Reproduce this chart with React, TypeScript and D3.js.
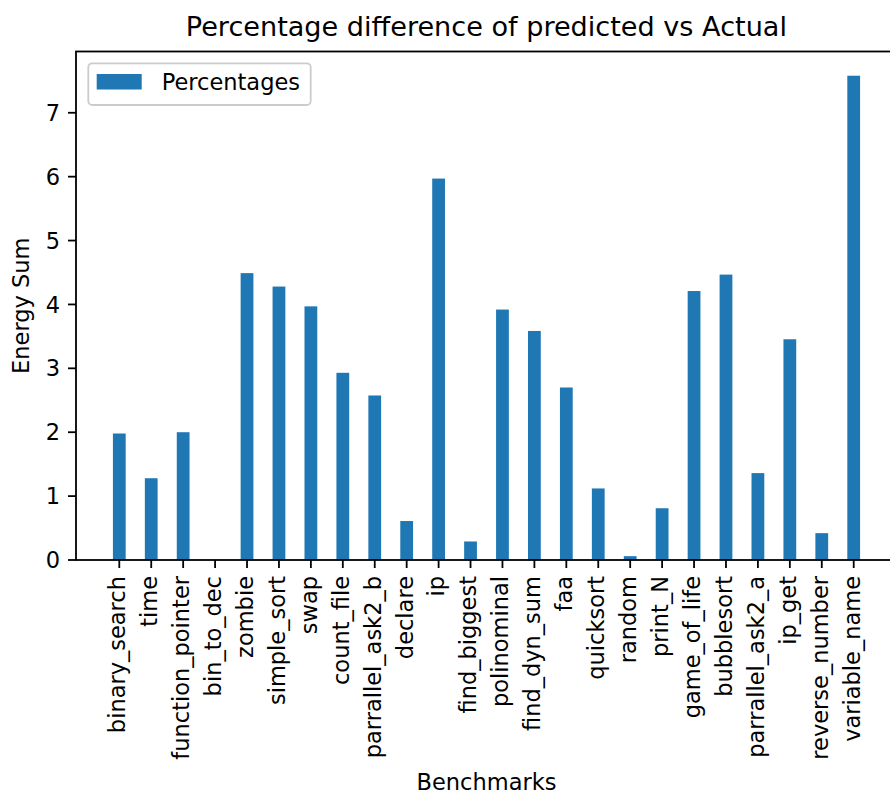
import React from "react";
import * as d3 from "d3";

const categories = [
  "binary_search", "time", "function_pointer", "bin_to_dec", "zombie", "simple_sort",
  "swap", "count_file", "parrallel_ask2_b", "declare", "ip", "find_biggest",
  "polinominal", "find_dyn_sum", "faa", "quicksort", "random", "print_N",
  "game_of_life", "bubblesort", "parrallel_ask2_a", "ip_get", "reverse_number", "variable_name",
];
const percentages = [
  1.98, 1.28, 2.0, 0, 4.49, 4.28,
  3.97, 2.93, 2.575, 0.61, 5.97, 0.29,
  3.92, 3.585, 2.7, 1.12, 0.06, 0.81,
  4.21, 4.467, 1.36, 3.455, 0.42, 7.58,
];
const yTicks = [0, 1, 2, 3, 4, 5, 6, 7];
const title = "Percentage difference of predicted vs Actual";
const xLabel = "Benchmarks";
const yLabel = "Energy Sum";
const legendLabel = "Percentages";

const W = 890;
const H = 796;
const left = 76;
const right = 897;
const top = 51.5;
const bottom = 560;
const pad = 1.356;
const FONT = "'DejaVu Sans', sans-serif";
const FS = 22.5;
const BLUE = "#1f77b4";

export default function App() {
  const n = categories.length;
  const x = d3.scaleLinear().domain([-pad, n - 1 + pad]).range([left, right]);
  const y = d3.scaleLinear().domain([0, 1.05 * (d3.max(percentages) as number)]).range([bottom, top]);
  const barW = x(0.4) - x(0);
  const cx = (left + right) / 2;
  const cy = (top + bottom) / 2;

  return (
    <svg width={W} height={H} style={{ position: "absolute", left: 0, top: 0, background: "#fff" }}
      fontFamily={FONT}>
      <rect x={0} y={0} width={W} height={H} fill="#fff" />
      <text x={486.4} y={36} fontSize={27.1} textAnchor="middle" fill="#000">{title}</text>

      {percentages.map((v, i) => (
        <rect key={categories[i]} x={x(i) - barW / 2} y={y(v)} width={barW}
          height={Math.max(0, y(0) - y(v))} fill={BLUE} />
      ))}

      {/* spines */}
      <rect x={left} y={top} width={right - left} height={bottom - top} fill="none" stroke="#000" strokeWidth={1.8} />

      {/* y ticks */}
      {yTicks.map((t) => (
        <g key={t}>
          <line x1={left - 8} x2={left} y1={y(t)} y2={y(t)} stroke="#000" strokeWidth={1.8} />
          <text x={left - 16} y={y(t)} dy="0.36em" fontSize={FS} textAnchor="end" fill="#000">{t}</text>
        </g>
      ))}

      {/* x ticks */}
      {categories.map((c, i) => (
        <g key={c}>
          <line x1={x(i)} x2={x(i)} y1={bottom} y2={bottom + 8} stroke="#000" strokeWidth={1.8} />
          <text transform={`translate(${x(i)},${bottom + 16}) rotate(-90)`} dy="0.26em"
            fontSize={FS} textAnchor="end" fill="#000">{c}</text>
        </g>
      ))}

      <text x={cx} y={789.5} fontSize={FS} textAnchor="middle" fill="#000">{xLabel}</text>
      <text transform={`translate(29,${cy}) rotate(-90)`} fontSize={FS} textAnchor="middle" fill="#000">{yLabel}</text>

      {/* legend */}
      <rect x={88.3} y={63.3} width={222.4} height={41.7} rx={4} fill="#fff" fillOpacity={0.8}
        stroke="#cccccc" strokeWidth={1.8} />
      <rect x={96.7} y={74} width={45} height={15.5} fill={BLUE} />
      <text x={161.7} y={90} fontSize={FS} fill="#000">{legendLabel}</text>
    </svg>
  );
}
